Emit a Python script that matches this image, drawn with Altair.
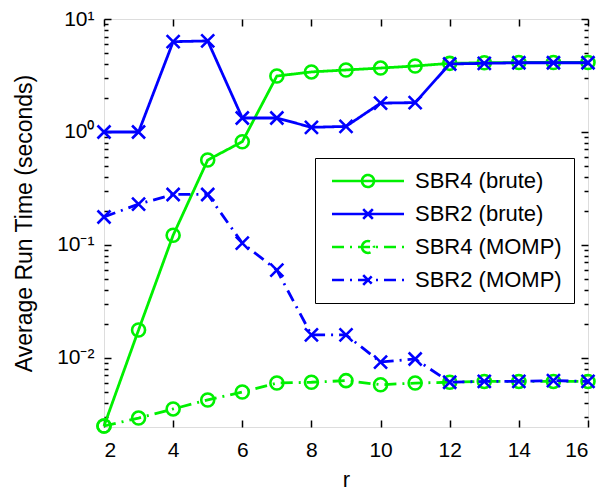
import altair as alt
import pandas as pd

r_values = list(range(2, 17))
series_names = ["SBR4 (brute)", "SBR2 (brute)", "SBR4 (MOMP)", "SBR2 (MOMP)"]
sbr4_brute = [0.0025, 0.0177, 0.122, 0.565, 0.82, 3.13, 3.4, 3.54, 3.68, 3.84, 4.05, 4.1, 4.12, 4.12, 4.12]
sbr2_brute = [1.0, 1.0, 6.3, 6.4, 1.33, 1.33, 1.1, 1.12, 1.8, 1.82, 4.0, 4.05, 4.1, 4.1, 4.1]
sbr4_momp = [0.0025, 0.00294, 0.00354, 0.00425, 0.0050, 0.0060, 0.0061, 0.0063, 0.0058, 0.0060, 0.0061, 0.0062, 0.0062, 0.0062, 0.0062]
sbr2_momp = [0.177, 0.23, 0.28, 0.28, 0.104, 0.060, 0.016, 0.016, 0.0092, 0.0098, 0.0061, 0.0062, 0.0062, 0.0063, 0.0062]
x_ticks = [2, 4, 6, 8, 10, 12, 14, 16]
y_major = [0.01, 0.1, 1, 10]
y_minor = [m * d for d in (0.001, 0.01, 0.1, 1) for m in range(2, 10) if 0.00245 <= m * d <= 10]

colors = ["#00f000", "#0000ff", "#00f000", "#0000ff"]
solid = [1, 0]
dashdot = [12, 6, 2, 6]
dashes = [solid, solid, dashdot, dashdot]
xpath = "M-1,-1L1,1M-1,1L1,-1"
markers = ["circle", xpath, "circle", xpath]
leg_circle = "M-6,0H6M-1,0A1,1,0,1,0,1,0A1,1,0,1,0,-1,0"
leg_x = "M-6,0H6M-0.8,-0.8L0.8,0.8M-0.8,0.8L0.8,-0.8"
leg_paths = [leg_circle, leg_x, leg_circle, leg_x]

values = [sbr4_brute, sbr2_brute, sbr4_momp, sbr2_momp]
rows = []
for name, vals in zip(series_names, values):
    for r, v in zip(r_values, vals):
        rows.append({"r": r, "t": v, "series": name})
df = pd.DataFrame(rows)

W, H = 484, 408
FONT = "Liberation Sans"
xscale = alt.Scale(domain=[2, 16], nice=False, zero=False)
yscale = alt.Scale(type="log", domain=[0.00245, 10], nice=False)

main_x_axis = alt.Axis(orient="bottom", values=x_ticks, format="d", ticks=False, domain=False,
                       grid=False, labelFont=FONT, labelFontSize=21, labelColor="black",
                       labelPadding=12, title="r", titleFont=FONT, titleFontSize=22,
                       titleFontWeight="normal", titleColor="black", titlePadding=9)
main_y_axis = alt.Axis(orient="left", values=y_major, ticks=False, domain=False, grid=False,
                       labelExpr="datum.value >= 5 ? '10¹' : datum.value >= 0.5 ? '10⁰' : datum.value >= 0.05 ? '10⁻¹' : '10⁻²'",
                       labelFont=FONT, labelFontSize=21, labelColor="black", labelPadding=10,
                       title="Average Run Time (seconds)", titleFont=FONT, titleFontSize=23,
                       titleFontWeight="normal", titleColor="black", titlePadding=20)

base = alt.Chart(df)
layers = []
first = True
for i, name in enumerate(series_names):
    xa = main_x_axis if first else None
    ya = main_y_axis if first else None
    first = False
    sub = base.transform_filter(alt.datum.series == name)
    line = sub.mark_line(color=colors[i], strokeDash=dashes[i], strokeWidth=2.8, clip=False).encode(
        x=alt.X("r:Q", scale=xscale, axis=xa),
        y=alt.Y("t:Q", scale=yscale, axis=ya),
    )
    pts = sub.mark_point(shape=markers[i], filled=False, size=169, strokeWidth=2.6,
                         color=colors[i], opacity=1, clip=False).encode(
        x=alt.X("r:Q", scale=xscale, axis=None),
        y=alt.Y("t:Q", scale=yscale, axis=None),
    )
    layers += [line, pts]

def tick_layer(xaxis, yaxis):
    return base.transform_filter("false").mark_point().encode(
        x=alt.X("r:Q", scale=xscale, axis=xaxis),
        y=alt.Y("t:Q", scale=yscale, axis=yaxis),
    )

tick_common = dict(labels=False, domain=False, grid=False, title=None, tickColor="black", tickWidth=1.5)
t1 = tick_layer(alt.Axis(orient="top", offset=-H, values=x_ticks, tickSize=7, **tick_common),
                alt.Axis(orient="right", offset=-W, values=y_major, tickSize=7, **tick_common))
t2 = tick_layer(alt.Axis(orient="bottom", offset=-H, values=x_ticks, tickSize=7, **tick_common),
                alt.Axis(orient="left", offset=-W, values=y_major, tickSize=7, **tick_common))
t3 = tick_layer(None, alt.Axis(orient="right", offset=-W, values=y_minor, tickSize=4, **tick_common))
t4 = tick_layer(None, alt.Axis(orient="left", offset=-W, values=y_minor, tickSize=4, **tick_common))

leg = alt.Legend(orient="none", legendX=211, legendY=139, title=None, labelFont=FONT,
                 labelFontSize=22, labelColor="black", strokeColor="black", fillColor="white",
                 padding=12, rowPadding=10, symbolSize=144, symbolStrokeWidth=2.6,
                 symbolOffset=30, labelOffset=36, symbolOpacity=1, labelLimit=400)
legend_layer = base.transform_filter("false").mark_point(filled=False).encode(
    color=alt.Color("series:N", scale=alt.Scale(domain=series_names, range=colors), legend=leg),
    strokeDash=alt.StrokeDash("series:N", scale=alt.Scale(domain=series_names, range=dashes), legend=leg),
    shape=alt.Shape("series:N", scale=alt.Scale(domain=series_names, range=leg_paths), legend=leg),
)

chart = alt.layer(*layers, t1, t2, t3, t4, legend_layer).resolve_axis(
    x="independent", y="independent"
).properties(
    width=W, height=H,
    autosize=alt.AutoSizeParams(type="none"),
    padding={"left": 96, "top": 11, "right": 16, "bottom": 64},
).configure_view(stroke="black", strokeWidth=2).configure_legend(strokeWidth=2).configure(background="white")

chart.save("out.html", embed_options={"renderer": "svg", "actions": False})
